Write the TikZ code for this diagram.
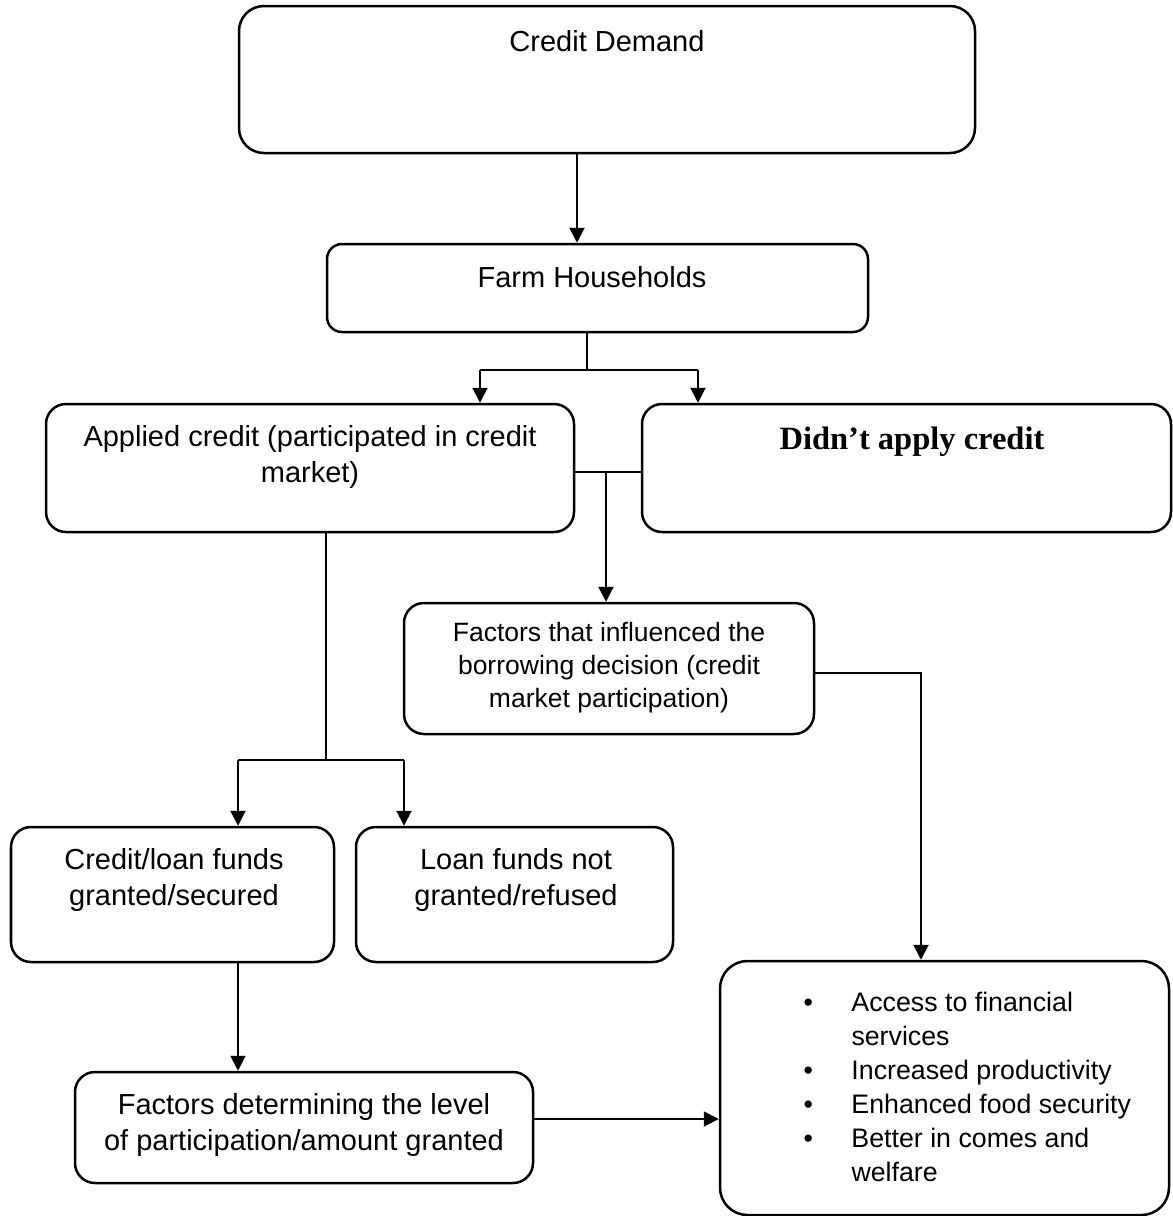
\documentclass[tikz,border=0pt]{standalone}
\usepackage{fontspec}
\setmainfont{Liberation Sans}
\newfontfamily\headfont{Liberation Serif}
\usepackage{tikz}
\usetikzlibrary{arrows.meta,positioning,fit}
\newcommand{\bodysize}{\fontsize{11.6pt}{14.6pt}\selectfont}
\newcommand{\smallsize}{\fontsize{10.6pt}{13.2pt}\selectfont}
\newcommand{\listsize}{\fontsize{10.7pt}{13.6pt}\selectfont}
\newcommand{\itm}{\makebox[19.2pt][l]{\textbullet}}
\newcommand{\cnt}{\hspace*{19.2pt}}
\tikzset{
  box/.style={draw, line width=1pt, rounded corners=8pt, inner sep=0pt},
  txt/.style={align=center, inner sep=0pt, font=\bodysize},
  flow/.style={-{Triangle[length=6pt, width=6pt]}, line width=0.8pt},
  link/.style={line width=0.8pt},
  thinlink/.style={line width=0.45pt},
}
\begin{document}
\begin{tikzpicture}[x=0.4pt, y=-0.4pt]
  \useasboundingbox (0,0) rectangle (1173,1216);
  % boxes
  \node[box, rounded corners=10pt, fit={(239,6) (975,153)}] (demand) {};
  \node[box, rounded corners=6pt, fit={(327,244) (868,332)}] (farm) {};
  \node[box, fit={(46,404) (574,532)}] (applied) {};
  \node[box, fit={(642,404) (1171,532)}] (didnt) {};
  \node[box, fit={(404,603) (814,734)}] (factors) {};
  \node[box, fit={(11,827) (334,962)}] (granted) {};
  \node[box, fit={(356,827) (673,962)}] (refused) {};
  \node[box, fit={(75,1072) (533,1183)}] (level) {};
  \node[box, rounded corners=11pt, fit={(720,961) (1169,1215)}] (outcome) {};
  % texts
  \node[txt] (demandtxt) at (607,41) {Credit Demand};
  \node[txt] (farmtxt) at (592,277) {Farm Households};
  \node[txt] (appliedtxt) at (310,457)
    {Applied credit (participated in credit\\market)};
  \node[txt, font=\headfont\bfseries\fontsize{13pt}{15pt}\selectfont]
    (didnttxt) at (912,442) {Didn’t apply credit};
  \node[txt, font=\smallsize] (factorstxt) at (609,668)
    {Factors that influenced the\\borrowing decision (credit\\market
     participation)};
  \node[txt] (grantedtxt) at (174,880) {Credit/loan funds\\granted/secured};
  \node[txt] (refusedtxt) at (516,880) {Loan funds not\\granted/refused};
  \node[txt] (leveltxt) at (304,1125)
    {Factors determining the level\\of participation/amount granted};
  \node[txt, align=left, anchor=west, font=\listsize] (outcometxt)
    at (803,1087) {\itm Access to financial\\ \cnt services\\
      \itm Increased productivity\\ \itm Enhanced food security\\
      \itm Better in comes and\\ \cnt welfare};
  % connectors
  \coordinate (j1) at (577,0);
  \draw[flow] (j1 |- demand.south) -- (j1 |- farm.north);
  \coordinate (j2) at (587,370);
  \coordinate (j2l) at (480,370);
  \coordinate (j2r) at (698,370);
  \draw[thinlink] (j2 |- farm.south) -- (j2);
  \draw[link] (j2l) -- (j2r);
  \draw[flow] (j2l) -- (j2l |- applied.north);
  \draw[flow] (j2r) -- (j2r |- didnt.north);
  \coordinate (j3) at (606,472);
  \draw[link] (applied.east |- j3) -- (didnt.west |- j3);
  \draw[flow] (j3) -- (j3 |- factors.north);
  \coordinate (j4) at (921,673);
  \draw[flow] (factors.east |- j4) -- (j4) -- (j4 |- outcome.north);
  \coordinate (j5) at (326,760);
  \coordinate (j5l) at (238,760);
  \coordinate (j5r) at (404,760);
  \draw[thinlink] (j5 |- applied.south) -- (j5);
  \draw[link] (j5l) -- (j5r);
  \draw[flow] (j5l) -- (j5l |- granted.north);
  \draw[flow] (j5r) -- (j5r |- refused.north);
  \draw[flow] (j5l |- granted.south) -- (j5l |- level.north);
  \coordinate (j6) at (0,1119);
  \draw[flow] (level.east |- j6) -- (outcome.west |- j6);
\end{tikzpicture}
\end{document}
